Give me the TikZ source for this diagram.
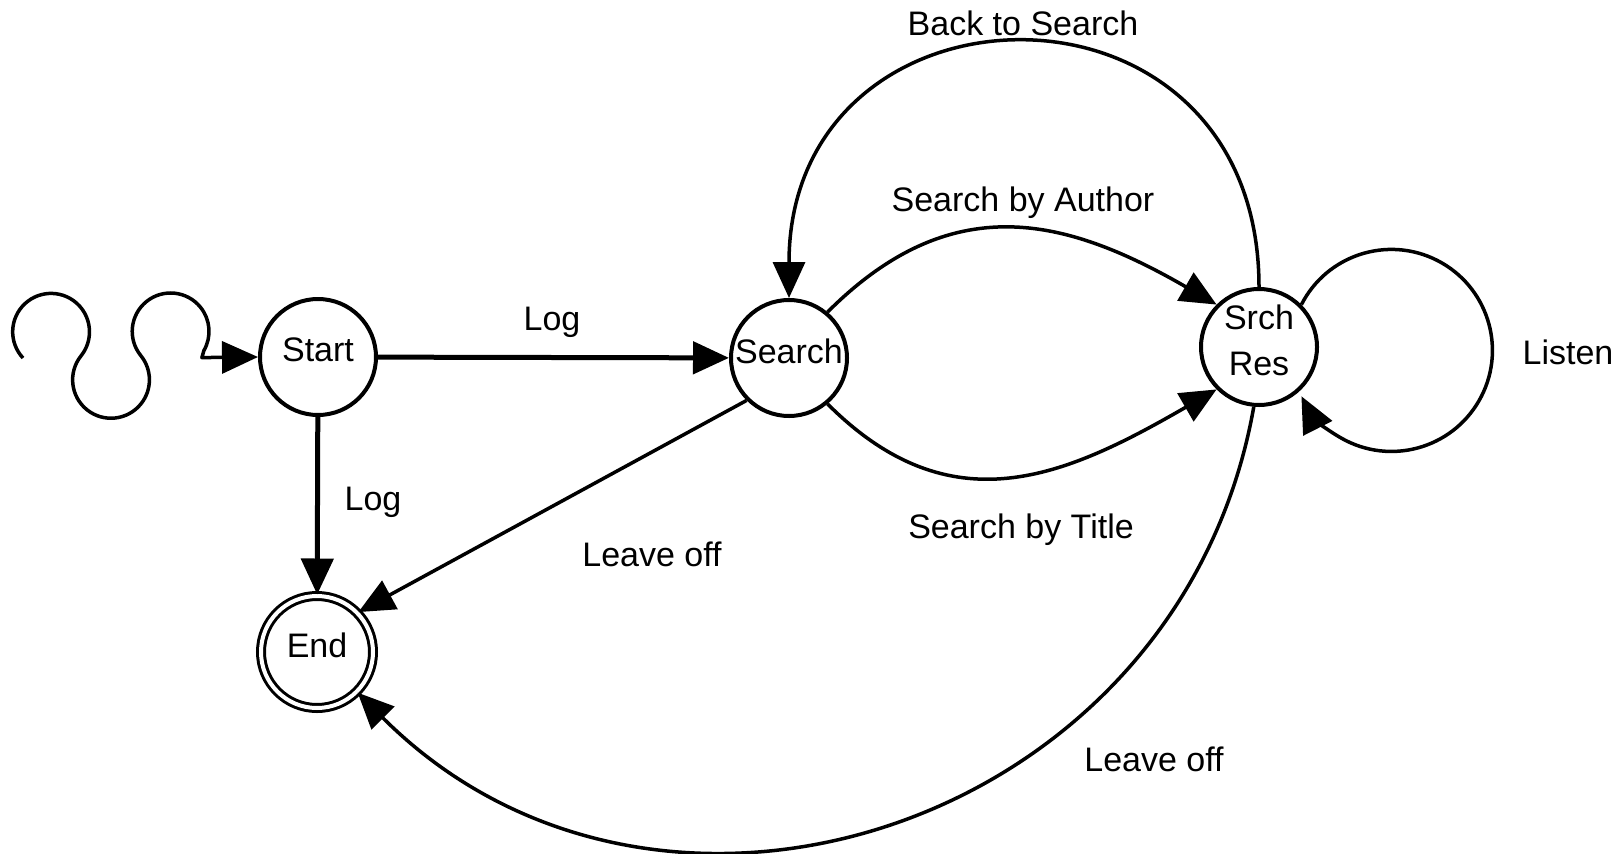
\documentclass[tikz,border=0pt]{standalone}
\usepackage{fontspec}
\setmainfont{Liberation Sans}
\usetikzlibrary{arrows.meta}
\tikzset{
  state/.style={circle, draw, line width=4pt, minimum size=116pt, inner sep=0pt,
    text depth=14pt, font=\fontsize{34}{46}\selectfont, align=center},
  final/.style={state, line width=3pt, double, double distance=4pt, minimum size=112pt},
  tip/.style={-{Triangle[length=36pt,width=32pt]}},
  heavy/.style={tip, line width=5pt},
  edge/.style={tip, line width=3.5pt},
  lbl/.style={font=\fontsize{34}{40}\selectfont, anchor=base, inner sep=0pt}
}
\begin{document}
\begin{tikzpicture}[x=1pt, y=1pt]
\useasboundingbox[fill=white] (0,0) rectangle (1623,-854);

% states
\node[state] (start)  at (318,-357) {Start};
\node[state] (search) at (789,-358) {Search};
\node[state] (res)    at (1259,-347) {Srch\\Res};
\node[final] (end)    at (317,-652) {End};

% initial squiggle into Start
\coordinate (wav) at (23,-358);
\draw[heavy, line width=3.5pt, line join=round]
  (wav) arc[start angle=223, end angle=-38.7, radius=38.4]
        arc[start angle=141.3, end angle=399.1, radius=38.4]
        arc[start angle=219.1, end angle=-30, radius=38.4]
        -- ++(-2,-7) -- (start.west);

% transitions
\draw[heavy] (start) -- (search);
\draw[heavy] (start) -- (end);
\draw[edge] (search.225) -- (end.44);
\draw[edge] (search.50) to[out=45, in=150, looseness=1.15] (res.135);
\draw[edge] (search.-50) to[out=-45, in=-150, looseness=1.15] (res.-135);
\draw[edge] (res.north) to[out=90, in=90, looseness=1.8] (search.north);
\draw[edge] (res.-95) to[out=-100, in=-45, looseness=1.16] (end.-45);
\draw[edge] (res.45) arc[start angle=153, end angle=-153, radius=101];

% labels
\node[lbl] (l1) at (1023,-35)  {Back to Search};
\node[lbl] (l2) at (1023,-211) {Search by Author};
\node[lbl] (l3) at (552,-330)  {Log};
\node[lbl] (l4) at (373,-510)  {Log};
\node[lbl] (l5) at (652,-566)  {Leave off};
\node[lbl] (l6) at (1021,-538) {Search by Title};
\node[lbl] (l7) at (1154,-771) {Leave off};
\node[lbl] (l8) at (1568,-364) {Listen};
\end{tikzpicture}
\end{document}
